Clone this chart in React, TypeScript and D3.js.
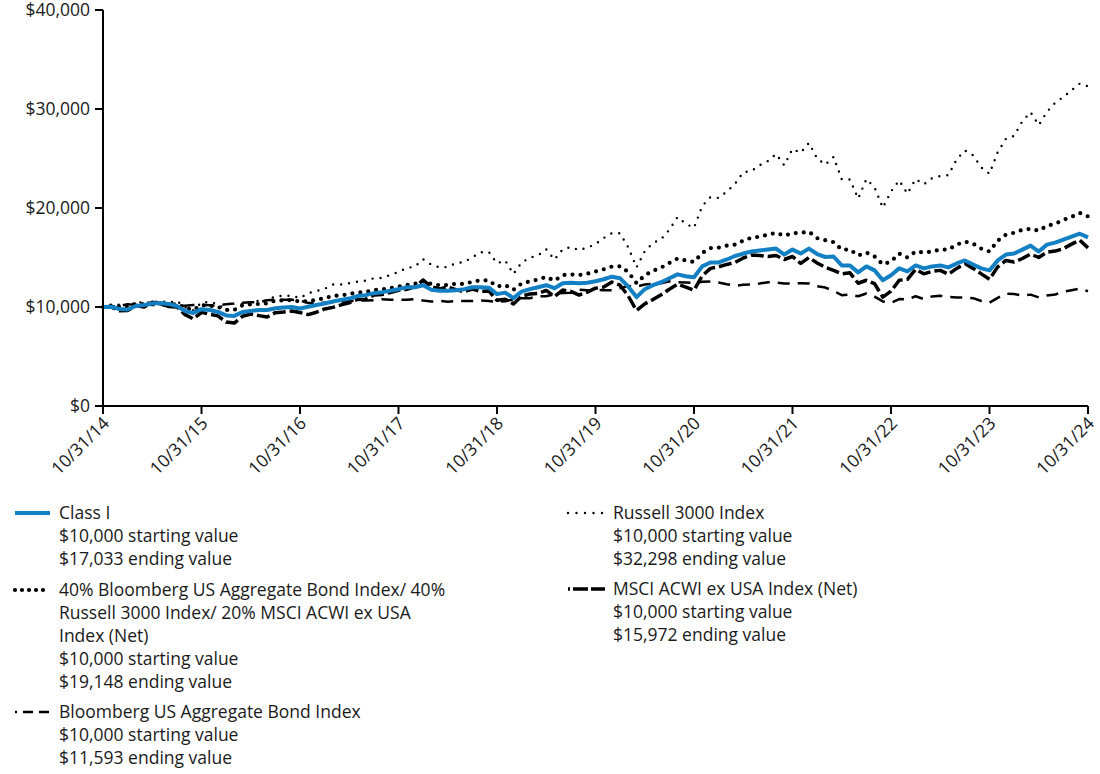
import React from "react";
import * as d3 from "d3";

const xTickLabels = ["10/31/14","10/31/15","10/31/16","10/31/17","10/31/18","10/31/19","10/31/20","10/31/21","10/31/22","10/31/23","10/31/24"];
const yTicks = [0, 10000, 20000, 30000, 40000];

const classI = [
  10000, 10020, 9800,
  9750, 10100, 10200, 10350, 10400, 10300, 10100, 9600, 9400, 9780, 9700, 9500,
  9150, 9100, 9500, 9600, 9700, 9700, 9880, 9950, 10000, 9850, 10020, 10200,
  10350, 10550, 10700, 10850, 11100, 11200, 11400, 11500, 11650, 11800, 12000, 12000,
  12200, 11750, 11650, 11650, 11700, 11800, 12000, 12000, 11950, 11300, 11450, 10900,
  11550, 11800, 12000, 12200, 11900, 12400, 12450, 12400, 12450, 12600, 12800, 13060,
  12900, 12050, 11000, 11800, 12200, 12500, 12900, 13300, 13100, 13000, 14100, 14500,
  14500, 14800, 15150, 15400, 15600, 15700, 15800, 15900, 15300, 15800, 15400, 15900,
  15350, 15050, 15100, 14200, 14200, 13500, 14100, 13700, 12700, 13200, 13900, 13600,
  14200, 13900, 14100, 14200, 14000, 14400, 14700, 14300, 13900, 13700, 14700, 15300,
  15400, 15800, 16200, 15600, 16300, 16500, 16800, 17100, 17400, 17033
];

const blend = [
  10000, 10122, 10053,
  10027, 10326, 10272, 10379, 10394, 10219, 10311, 9899, 9721, 10174, 10146, 10010,
  9706, 9710, 10174, 10268, 10309, 10360, 10652, 10673, 10707, 10544, 10584, 10724,
  10889, 11115, 11175, 11303, 11468, 11512, 11705, 11768, 11902, 12052, 12211, 12338,
  12679, 12311, 12203, 12222, 12342, 12325, 12547, 12700, 12687, 12065, 12215, 11744,
  12373, 12591, 12778, 13049, 12658, 13225, 13288, 13232, 13359, 13586, 13812, 14085,
  14110, 13523, 12400, 13200, 13650, 13980, 14450, 14900, 14700, 14550, 15450, 15950,
  16000, 16200, 16300, 16700, 17000, 17100, 17300, 17500, 17200, 17450, 17500, 17600,
  16950, 16750, 16550, 15800, 15800, 15200, 15500, 15100, 14300, 14600, 15400, 15000,
  15600, 15500, 15600, 15800, 15800, 16300, 16600, 16400, 15900, 15600, 16700, 17300,
  17500, 17800, 17900, 17700, 18200, 18400, 18800, 19100, 19500, 19148
];

const bloombergAgg = [
  10000, 10070, 10080,
  10290, 10190, 10240, 10200, 10180, 10070, 10140, 10130, 10200, 10200, 10170, 10140,
  10280, 10350, 10440, 10480, 10490, 10680, 10740, 10730, 10730, 10650, 10400, 10410,
  10430, 10500, 10500, 10580, 10660, 10650, 10690, 10790, 10740, 10740, 10730, 10780,
  10650, 10550, 10620, 10540, 10610, 10600, 10600, 10670, 10600, 10520, 10580, 10780,
  10890, 10880, 11090, 11090, 11280, 11420, 11450, 11740, 11680, 11710, 11700, 11690,
  11910, 12130, 12060, 12270, 12330, 12400, 12590, 12490, 12480, 12430, 12550, 12570,
  12480, 12300, 12150, 12240, 12280, 12370, 12500, 12480, 12370, 12370, 12400, 12370,
  12100, 11960, 11630, 11190, 11260, 11080, 11360, 11040, 10560, 10420, 10800, 10750,
  11090, 10800, 11070, 11130, 11010, 10970, 10960, 10890, 10610, 10440, 10920, 11340,
  11310, 11150, 11250, 10970, 11160, 11260, 11530, 11700, 11860, 11593
];

const russell3000 = [
  10000, 10240, 10240,
  9953, 10530, 10425, 10477, 10613, 10433, 10610, 9974, 9684, 10449, 10512, 10291,
  9715, 9715, 10395, 10457, 10645, 10667, 11093, 11127, 11149, 10904, 11395, 11611,
  11832, 12270, 12282, 12405, 12554, 12667, 12908, 12934, 13244, 13535, 13941, 14080,
  14826, 14278, 13992, 14048, 14441, 14542, 15022, 15533, 15564, 14412, 14700, 13333,
  14480, 14987, 15212, 15820, 14792, 15827, 16064, 15743, 15995, 16347, 16968, 17460,
  17442, 16012, 14000, 15624, 16468, 16847, 17807, 19089, 18402, 17997, 20193, 21102,
  21017, 21669, 22449, 23616, 23734, 24328, 24741, 25459, 24313, 25967, 25577, 26575,
  25007, 24382, 25162, 22898, 22875, 20953, 22923, 22075, 20022, 21664, 22791, 21446,
  22926, 22399, 23004, 23234, 23327, 24913, 25810, 25320, 24104, 23453, 25634, 26993,
  27290, 28764, 29684, 28378, 29712, 30633, 31215, 31902, 32572, 32298
];

const msciAcwiExUsa = [
  10000, 9990, 9630,
  9640, 10150, 9990, 10490, 10330, 10040, 10010, 9230, 8800, 9460, 9270, 9100,
  8480, 8380, 9060, 9290, 9130, 8990, 9430, 9490, 9600, 9450, 9230, 9470,
  9800, 9960, 10210, 10420, 10760, 10790, 11200, 11260, 11470, 11690, 11780, 12040,
  12710, 12040, 11820, 12010, 11760, 11540, 11810, 11570, 11620, 10680, 10790, 10300,
  11090, 11310, 11380, 11670, 11040, 11710, 11570, 11210, 11500, 11900, 12010, 12520,
  12200, 11100, 9650, 10320, 10750, 11240, 11800, 12300, 12000, 11700, 13150, 13900,
  14050, 14300, 14500, 14950, 15250, 15200, 15100, 15200, 14800, 15100, 14400, 15000,
  14450, 14000, 13700, 13350, 13450, 12400, 12700, 12350, 11000, 11600, 12700, 12800,
  13800, 13350, 13600, 13700, 13300, 13900, 14400, 13900, 13350, 12800, 14050, 14700,
  14550, 14900, 15350, 15000, 15550, 15650, 15900, 16350, 16750, 15972
];

const FONT = "'Open Sans', 'Noto Sans', sans-serif";
const FS = 17.5;
const BLUE = "#1380c4";
const TXT = "#1a1a1a";

type Style = { stroke: string; width: number; dash?: string; cap?: "round" | "butt"; };

const styles: Record<string, Style> = {
  classI: { stroke: BLUE, width: 4 },
  blend: { stroke: "#000", width: 4.2, dash: "0,8", cap: "round" },
  russell: { stroke: "#000", width: 2.4, dash: "0,8", cap: "round" },
  agg: { stroke: "#000", width: 2.5, dash: "12,8" },
  msci: { stroke: "#000", width: 3.5, dash: "13,4" },
};

export default function App() {
  const W = 1100, H = 774;
  const x0 = 103, x1 = 1088, yTop = 10, yBot = 406;
  const n = classI.length - 1;
  const x = d3.scaleLinear().domain([0, n]).range([x0, x1]);
  const y = d3.scaleLinear().domain([0, 40000]).range([yBot, yTop]);
  const line = d3.line<number>().x((_, i) => x(i)).y((d) => y(d)).curve(d3.curveLinear);
  const fmt = (v: number) => "$" + d3.format(",")(v);

  const series: { key: string; data: number[] }[] = [
    { key: "agg", data: bloombergAgg },
    { key: "russell", data: russell3000 },
    { key: "msci", data: msciAcwiExUsa },
    { key: "blend", data: blend },
    { key: "classI", data: classI },
  ];

  const lh = 23;
  const legendLeft = [
    { key: "classI", y: 513, lines: ["Class I", "$10,000 starting value", "$17,033 ending value"], sample: { dash: undefined as string | undefined } },
    { key: "blend", y: 590, lines: ["40% Bloomberg US Aggregate Bond Index/ 40%", "Russell 3000 Index/ 20% MSCI ACWI ex USA", "Index (Net)", "$10,000 starting value", "$19,148 ending value"], sample: { dash: "0,7" } },
    { key: "agg", y: 712, lines: ["Bloomberg US Aggregate Bond Index", "$10,000 starting value", "$11,593 ending value"], sample: { dash: "2,6,10,6,10,6" } },
  ];
  const legendRight = [
    { key: "russell", y: 513, lines: ["Russell 3000 Index", "$10,000 starting value", "$32,298 ending value"], sample: { dash: "0,8.5" } },
    { key: "msci", y: 589, lines: ["MSCI ACWI ex USA Index (Net)", "$10,000 starting value", "$15,972 ending value"], sample: { dash: "2,3,15,3,15,5" } },
  ];

  const renderLegend = (items: typeof legendLeft, sx0: number, sx1: number, tx: number) =>
    items.map((it) => {
      const st = styles[it.key];
      return (
        <g key={it.key}>
          <line x1={sx0} x2={sx1} y1={it.y} y2={it.y} stroke={st.stroke} strokeWidth={st.width}
            strokeDasharray={it.sample.dash} strokeLinecap={st.cap || "butt"} />
          {it.lines.map((t, j) => (
            <text key={j} x={tx} y={it.y + j * lh} dy="0.35em" fontSize={FS} fontFamily={FONT} fill={TXT}>{t}</text>
          ))}
        </g>
      );
    });

  return (
    <svg width={W} height={H} style={{ position: "absolute", left: 0, top: 0, background: "#fff" }}>
      {/* series */}
      {series.map((s) => {
        const st = styles[s.key];
        return (
          <path key={s.key} d={line(s.data) || ""} fill="none" stroke={st.stroke} strokeWidth={st.width}
            strokeDasharray={st.dash} strokeLinecap={st.cap || "butt"} strokeLinejoin="round" />
        );
      })}
      {/* y axis */}
      <line x1={x0} x2={x0} y1={yTop} y2={yBot} stroke="#000" strokeWidth={2} />
      {yTicks.map((t) => (
        <g key={t}>
          <line x1={x0 - 8} x2={x0} y1={y(t)} y2={y(t)} stroke="#000" strokeWidth={2} />
          <text x={x0 - 13} y={y(t)} dy="0.35em" textAnchor="end" fontSize={FS} fontFamily={FONT} fill={TXT}>{fmt(t)}</text>
        </g>
      ))}
      {/* x axis */}
      <line x1={x0} x2={x1} y1={yBot} y2={yBot} stroke="#000" strokeWidth={2} />
      {xTickLabels.map((lab, i) => {
        const xi = x(i * 12);
        return (
          <g key={lab}>
            <line x1={xi} x2={xi} y1={yBot} y2={yBot + 8} stroke="#000" strokeWidth={2} />
            <text transform={`translate(${xi + 3},${yBot + 14}) rotate(-45)`} textAnchor="end" dy="0.35em"
              fontSize={FS} fontFamily={FONT} fill={TXT}>{lab}</text>
          </g>
        );
      })}
      {renderLegend(legendLeft, 15, 50, 59)}
      {renderLegend(legendRight as any, 568, 605, 613)}
    </svg>
  );
}
